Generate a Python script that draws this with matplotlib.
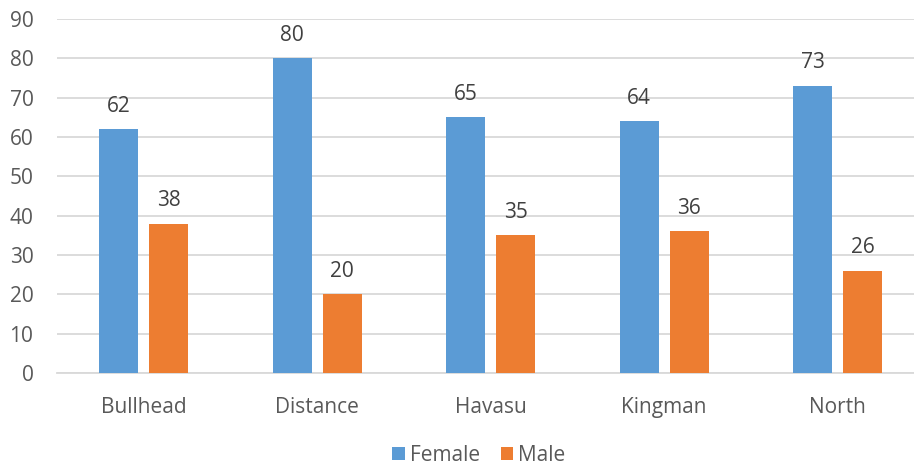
import numpy as np
import matplotlib.pyplot as plt

categories = ["Bullhead", "Distance", "Havasu", "Kingman", "North"]
female = [62, 80, 65, 64, 73]
male = [38, 20, 35, 36, 26]

blue = "#5B9BD5"
orange = "#ED7D31"
text_col = "#595959"

plt.rcParams["font.family"] = ["Open Sans", "DejaVu Sans"]

fig = plt.figure(figsize=(9.14, 4.67), dpi=100)
# plot area runs slightly past the right edge of the figure
ax = fig.add_axes([0.0624, 0.2013, 0.949, 0.758])

x = np.arange(len(categories))
w = 0.225
gap = 0.063
b1 = ax.bar(x - (w + gap) / 2, female, w, color=blue, label="Female", zorder=3)
b2 = ax.bar(x + (w + gap) / 2, male, w, color=orange, label="Male", zorder=3)

for bars, vals in ((b1, female), (b2, male)):
    for bar, v in zip(bars, vals):
        ax.annotate(str(v), (bar.get_x() + bar.get_width() / 2, v),
                    xytext=(0, 9), textcoords="offset points",
                    ha="center", va="bottom", fontsize=15, color="#404040")

ax.set_xlim(-0.5, len(categories) - 0.5)
ax.set_ylim(0, 90)
ax.set_yticks(range(0, 91, 10))
ax.set_xticks(x)
ax.set_xticklabels(categories)
ax.tick_params(axis="both", length=0, labelsize=15, colors=text_col)
ax.tick_params(axis="x", pad=17)
ax.tick_params(axis="y", pad=17)
ax.yaxis.grid(True, color="#D9D9D9", linewidth=1.3, zorder=0)
for s in ("top", "right", "left"):
    ax.spines[s].set_visible(False)
ax.spines["bottom"].set_color("#D9D9D9")
ax.spines["bottom"].set_linewidth(1.3)

fig.legend(handles=[b1, b2], loc="lower center", bbox_to_anchor=(0.524, -0.038),
           ncol=2, frameon=False, fontsize=15, handlelength=0.6, handleheight=0.6,
           handletextpad=0.25, columnspacing=1.0, labelcolor=text_col)

fig.savefig("out.png", dpi=100)
